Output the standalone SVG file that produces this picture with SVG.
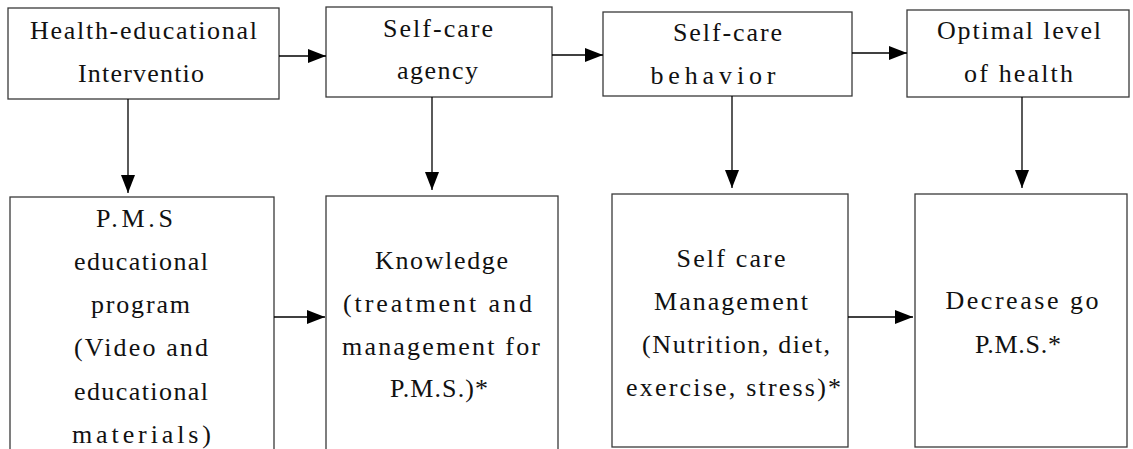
<svg xmlns="http://www.w3.org/2000/svg" width="1133" height="449" viewBox="0 0 1133 449">
<style>
.box{fill:#fff;stroke:#3a3a3a;stroke-width:1.3}
.t{font-family:"Liberation Serif","Times New Roman",serif;font-size:26px;fill:#111;text-anchor:middle}
.c{stroke:#000;stroke-width:1.3;fill:none}
</style>
<defs>
<marker id="ah" markerUnits="userSpaceOnUse" markerWidth="19" markerHeight="15" refX="18" refY="7" orient="auto">
<path d="M0,0 L18,7 L0,14 z" fill="#000"/>
</marker>
</defs>
<rect width="1133" height="449" fill="#fff"/>
<g id="n1">
<rect class="box" x="8" y="8" width="271" height="91"/>
<text class="t" x="143.5" y="39" textLength="227" lengthAdjust="spacing">Health-educational</text>
<text class="t" x="141" y="82" textLength="126" lengthAdjust="spacing">Interventio</text>
</g>
<g id="n2">
<rect class="box" x="326" y="7" width="226" height="90"/>
<text class="t" x="438" y="37" textLength="110" lengthAdjust="spacing">Self-care</text>
<text class="t" x="437.5" y="79" textLength="81" lengthAdjust="spacing">agency</text>
</g>
<g id="n3">
<rect class="box" x="603" y="12" width="249" height="84"/>
<text class="t" x="727.5" y="41" textLength="109" lengthAdjust="spacing">Self-care</text>
<text class="t" x="713" y="84" textLength="125" lengthAdjust="spacing">behavior</text>
</g>
<g id="n4">
<rect class="box" x="907" y="10" width="222" height="87"/>
<text class="t" x="1019" y="39" textLength="164" lengthAdjust="spacing">Optimal level</text>
<text class="t" x="1018.5" y="82" textLength="109" lengthAdjust="spacing">of health</text>
</g>
<g id="n5">
<rect class="box" x="10" y="197" width="264" height="260"/>
<text class="t" x="134.5" y="227" textLength="77" lengthAdjust="spacing">P.M.S</text>
<text class="t" x="141" y="270" textLength="134" lengthAdjust="spacing">educational</text>
<text class="t" x="140.5" y="313" textLength="99" lengthAdjust="spacing">program</text>
<text class="t" x="141" y="356" textLength="134" lengthAdjust="spacing">(Video and</text>
<text class="t" x="141" y="400" textLength="134" lengthAdjust="spacing">educational</text>
<text class="t" x="141.5" y="443" textLength="139" lengthAdjust="spacing">materials)</text>
</g>
<g id="n6">
<rect class="box" x="326" y="196" width="232" height="261"/>
<text class="t" x="441.5" y="269" textLength="133" lengthAdjust="spacing">Knowledge</text>
<text class="t" x="437.5" y="312" textLength="189" lengthAdjust="spacing">(treatment and</text>
<text class="t" x="441" y="355" textLength="198" lengthAdjust="spacing">management for</text>
<text class="t" x="439" y="397" textLength="98" lengthAdjust="spacing">P.M.S.)*</text>
</g>
<g id="n7">
<rect class="box" x="612" y="194" width="236" height="253"/>
<text class="t" x="731" y="267" textLength="109" lengthAdjust="spacing">Self care</text>
<text class="t" x="731" y="310" textLength="154" lengthAdjust="spacing">Management</text>
<text class="t" x="736" y="353" textLength="188" lengthAdjust="spacing">(Nutrition, diet,</text>
<text class="t" x="733.5" y="396" textLength="215" lengthAdjust="spacing">exercise, stress)*</text>
</g>
<g id="n8">
<rect class="box" x="915" y="194" width="212" height="253"/>
<text class="t" x="1022" y="309" textLength="153" lengthAdjust="spacing">Decrease go</text>
<text class="t" x="1018" y="353" textLength="86" lengthAdjust="spacing">P.M.S.*</text>
</g>
<g id="connectors">
<line class="c" x1="279" y1="56" x2="326" y2="56" marker-end="url(#ah)"/>
<line class="c" x1="552" y1="55" x2="603" y2="55" marker-end="url(#ah)"/>
<line class="c" x1="852" y1="53" x2="907" y2="53" marker-end="url(#ah)"/>
<line class="c" x1="128" y1="99" x2="128" y2="193" marker-end="url(#ah)"/>
<line class="c" x1="432" y1="97" x2="432" y2="190" marker-end="url(#ah)"/>
<line class="c" x1="732" y1="96" x2="732" y2="188" marker-end="url(#ah)"/>
<line class="c" x1="1022" y1="97" x2="1022" y2="188" marker-end="url(#ah)"/>
<line class="c" x1="274" y1="317" x2="325" y2="317" marker-end="url(#ah)"/>
<line class="c" x1="848" y1="317" x2="913" y2="317" marker-end="url(#ah)"/>
</g>
</svg>
